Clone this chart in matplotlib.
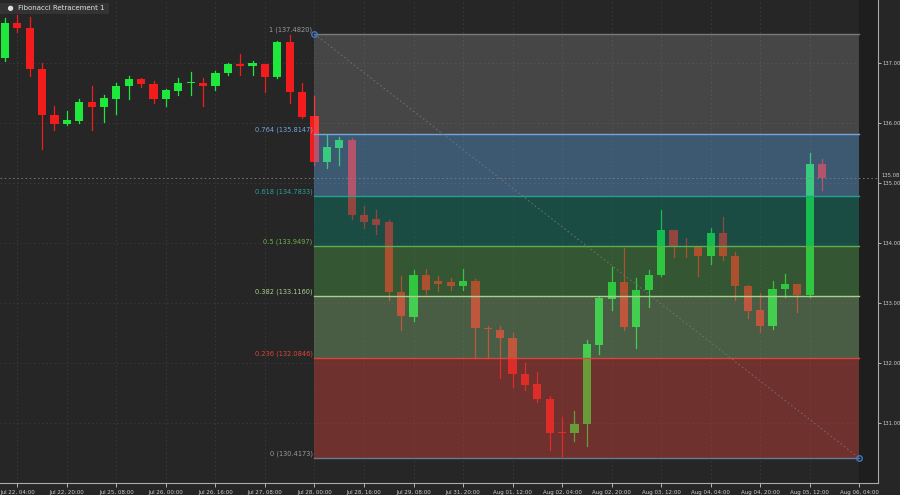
import matplotlib
matplotlib.use("Agg")
import matplotlib.pyplot as plt
from matplotlib.patches import Rectangle

opens  = [137.08,137.67,137.58,136.90,136.13,135.98,136.03,136.35,136.27,136.40,136.62,136.73,136.65,136.40,136.53,136.66,136.67,136.62,136.83,136.98,136.95,136.98,136.77,137.35,136.52,136.12,135.35,135.58,135.72,134.47,134.40,134.35,133.18,132.77,133.47,133.36,133.35,133.28,133.37,132.57,132.55,132.42,131.82,131.65,131.40,130.84,130.83,130.98,132.30,133.07,133.35,132.60,133.22,133.47,134.22,133.94,133.93,133.78,134.17,133.78,133.28,132.88,132.62,133.23,133.32,133.13,135.32]
closes = [137.66,137.58,136.90,136.13,135.98,136.05,136.35,136.27,136.42,136.62,136.73,136.65,136.40,136.55,136.67,136.68,136.62,136.83,136.98,136.95,137.00,136.77,137.35,136.52,136.10,135.35,135.60,135.72,134.47,134.35,134.30,133.18,132.78,133.47,133.22,133.32,133.28,133.37,132.58,132.56,132.42,131.82,131.63,131.40,130.83,130.83,130.98,132.32,133.08,133.35,132.60,133.22,133.47,134.22,133.95,133.93,133.78,134.17,133.78,133.28,132.87,132.62,133.23,133.32,133.13,135.32,135.08]
highs  = [137.75,137.80,137.77,137.00,136.28,136.20,136.40,136.62,136.47,136.67,136.78,136.75,136.70,136.57,136.75,136.85,136.75,136.87,137.00,137.15,137.03,136.98,137.37,137.47,136.67,136.45,135.80,135.77,135.75,134.62,134.55,134.38,133.45,133.55,133.57,133.45,133.42,133.57,133.40,132.62,132.62,132.50,132.00,131.85,131.45,131.10,131.20,132.38,133.10,133.60,133.92,133.42,133.55,134.55,134.22,134.08,133.93,134.25,134.43,133.85,133.30,133.17,133.37,133.48,133.32,135.50,135.40]
lows   = [137.03,137.52,136.78,135.57,135.88,135.97,136.00,135.88,136.02,136.15,136.40,136.60,136.33,136.28,136.47,136.47,136.28,136.55,136.80,136.80,136.80,136.52,136.75,136.33,136.08,135.30,135.25,135.30,134.40,134.25,134.15,133.05,132.55,132.70,133.15,133.20,133.22,133.22,132.08,132.08,131.75,131.60,131.55,131.35,130.55,130.45,130.70,130.62,132.15,132.88,132.55,132.25,132.93,133.45,133.77,133.77,133.45,133.65,133.72,133.05,132.75,132.52,132.57,133.10,132.85,133.10,134.88]
tick_labels = ["Jul 22, 04:00","Jul 22, 20:00","Jul 25, 08:00","Jul 26, 00:00","Jul 26, 16:00","Jul 27, 08:00","Jul 28, 00:00","Jul 28, 16:00","Jul 29, 08:00","Jul 31, 20:00","Aug 01, 12:00","Aug 02, 04:00","Aug 02, 20:00","Aug 03, 12:00","Aug 04, 04:00","Aug 04, 20:00","Aug 05, 12:00","Aug 06, 04:00"]
fib_high, fib_low = 137.4820, 130.4173
fib_ratios = [1, 0.764, 0.618, 0.5, 0.382, 0.236, 0]
fib_start, fib_end = 25, 69
last_price = 135.08

BG = "#262626"
fig = plt.figure(figsize=(9, 4.95), dpi=100, facecolor=BG)
ax = fig.add_axes([0, 0.024, 878/900, 0.976])
ax.set_facecolor(BG)
xmax = (878 - 5) / 12.38
ax.set_xlim(-0.4, xmax)
ax.set_ylim(130.0, 138.05)

for j in range(len(tick_labels)):
    ax.axvline(1 + 4*j, color="#3a3a3a", lw=0.6, ls=(0, (2, 3)), zorder=0)
for p in range(131, 138):
    ax.axhline(p, color="#3a3a3a", lw=0.6, ls=(0, (2, 3)), zorder=0)

for i, (o, c, h, l) in enumerate(zip(opens, closes, highs, lows)):
    col = "#1de83b" if c >= o else "#f21c1c"
    ax.plot([i, i], [l, h], color=col, lw=0.9, zorder=2)
    lo, hi = min(o, c), max(o, c)
    ax.add_patch(Rectangle((i - 0.33, lo), 0.66, max(hi - lo, 0.02), color=col, zorder=3, lw=0))

levels = [fib_low + r*(fib_high - fib_low) for r in fib_ratios]
band_cols = ["#ffffff", "#5ea2dc", "#0d816f", "#4b9945", "#78ab6f", "#c64038"]
band_alpha = [0.15, 0.42, 0.42, 0.42, 0.42, 0.45]
line_cols = ["#7a7a7a", "#6fa8dc", "#23a08e", "#5cae4e", "#a8d08d", "#d9453a", "#6a7a8a"]
text_cols = ["#9a9a9a", "#6fa8dc", "#2aa198", "#6ab04c", "#a8d08d", "#e0453a", "#9a9a9a"]
for k in range(6):
    ax.add_patch(Rectangle((fib_start, levels[k+1]), fib_end - fib_start, levels[k] - levels[k+1],
                           color=band_cols[k], alpha=band_alpha[k], lw=0, zorder=4))
for k, (r, lv) in enumerate(zip(fib_ratios, levels)):
    ax.plot([fib_start, fib_end], [lv, lv], color=line_cols[k], lw=1, zorder=5)
    ax.text(fib_start - 0.15, lv + 0.02, f"{r:g} ({lv:.4f})", color=text_cols[k], fontsize=4.8,
            ha="right", va="bottom", zorder=6)
ax.plot([fib_start, fib_end], [fib_high, fib_low], color="#777777", lw=0.6, ls=(0, (2, 3)), zorder=5)
ax.plot([fib_start, fib_end], [fib_high, fib_low], "o", mfc="none", mec="#3a78c8", ms=4, mew=1, zorder=7)

ax.axvspan(fib_end, xmax, color="#1e1e1e", zorder=1)
ax.axhline(last_price, color="#808080", lw=0.6, ls=(0, (2, 3)), zorder=6)

ax.yaxis.tick_right()
ax.set_yticks(list(range(131, 138)))
ax.set_yticklabels([f"{p:.2f}" for p in range(131, 138)])
ax.tick_params(axis="y", colors="#cccccc", labelsize=3.8, length=2, width=0.6, pad=1)
ax.set_xticks([1 + 4*j for j in range(len(tick_labels))])
ax.set_xticklabels(tick_labels)
ax.tick_params(axis="x", colors="#cccccc", labelsize=4, length=3, width=0.6, pad=2)
for s in ["top", "left"]:
    ax.spines[s].set_visible(False)
for s in ["right", "bottom"]:
    ax.spines[s].set_color("#aaaaaa")
    ax.spines[s].set_linewidth(0.8)
ax.text(1.004, last_price + 0.04, f"{last_price:.2f}", transform=ax.get_yaxis_transform(), color="#cccccc",
        fontsize=3.8, va="center", ha="left")

fig.text(0.003, 0.983, "  ●  Fibonacci Retracement 1 ", color="#e0e0e0", fontsize=5, va="center",
         bbox=dict(boxstyle="square,pad=0.4", fc="#333333", ec="none"))
fig.savefig("out.png", dpi=100, facecolor=BG)
